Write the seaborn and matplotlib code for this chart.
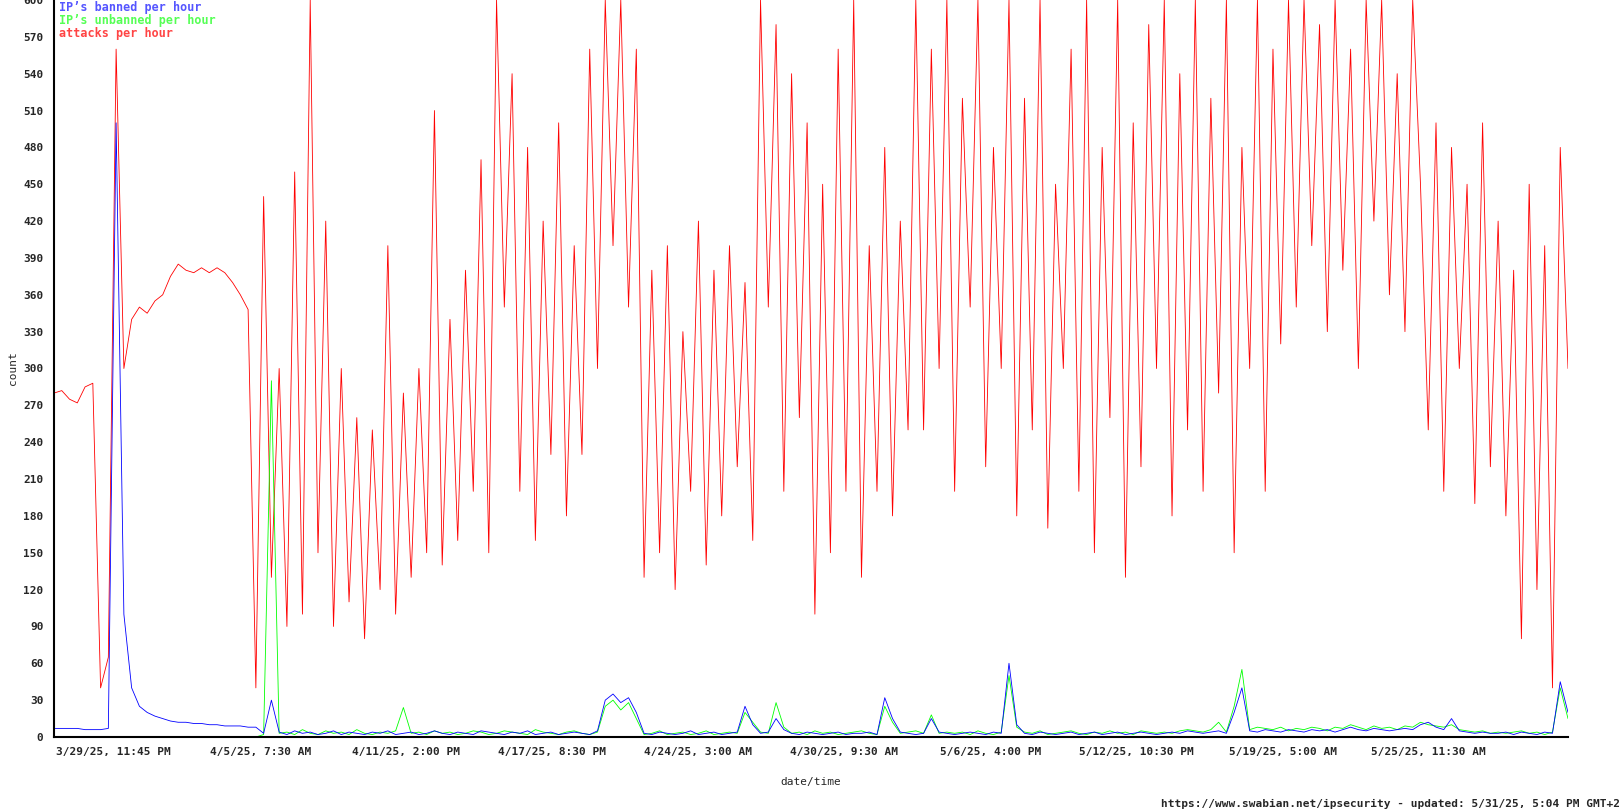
import matplotlib
matplotlib.use("Agg")
import matplotlib.pyplot as plt
import numpy as np
import pandas as pd
import seaborn as sns

START = "2025-03-27 11:00"
STEP = "8h"

attacks = [
    280, 282, 275, 272, 285, 288, 40, 65, 560, 300, 340, 350, 345, 355, 360, 375,
    385, 380, 378, 382, 378, 382, 378, 370, 360, 348,
    40, 440, 130, 300, 90, 460, 100, 600, 150, 420,
    90, 300, 110, 260, 80, 250, 120, 400, 100, 280, 130, 300, 150, 510, 140, 340,
    160, 380, 200, 470, 150,
    600, 350, 540, 200, 480, 160, 420, 230, 500, 180, 400, 230, 560, 300,
    600, 400, 600, 350, 560,
    130, 380, 150, 400, 120, 330, 200, 420, 140, 380, 180, 400, 220, 370, 160,
    600, 350, 580, 200, 540, 260, 500, 100, 450, 150, 560, 200, 600, 130, 400,
    200, 480, 180, 420, 250,
    600, 250, 560, 300, 600, 200, 520, 350, 600, 220, 480, 300, 600, 180, 520, 250,
    600, 170, 450, 300, 560, 200, 600, 150, 480, 260, 600, 130, 500, 220, 580, 300,
    600, 180, 540, 250, 600, 200, 520, 280, 600, 150, 480, 300, 600, 200, 560, 320,
    600, 350, 600, 400, 580, 330, 600, 380, 560, 300, 600, 420, 600, 360, 540, 330,
    600,
    450, 250, 500, 200, 480, 300, 450, 190, 500, 220, 420, 180, 380,
    80, 450, 120, 400, 40, 480, 300,
]

banned = [
    7, 7, 7, 7, 6, 6, 6, 7, 500, 100, 40, 25, 20, 17, 15, 13, 12, 12, 11, 11,
    10, 10, 9, 9, 9, 8, 8,
    3, 30, 4, 2, 5, 3, 4, 2, 3, 5, 2, 4, 3, 2, 4, 3, 5, 2, 3, 4, 2, 3, 5, 3,
    2, 4, 3, 2, 5, 4, 3, 2, 4, 3, 5, 2, 3, 4, 2, 3, 4, 3, 2, 5,
    30, 35, 28, 32, 20,
    3, 2, 4, 3, 2, 3, 5, 2, 3, 4, 2, 3, 4, 25, 10, 3, 4, 15, 6, 3,
    2, 4, 3, 2, 3, 4, 2, 3, 3, 4, 2, 32, 15, 4, 3, 2, 3, 15, 4, 3,
    2, 3, 4, 3, 2, 4, 3, 60, 10, 3, 2, 4, 3, 2, 3, 4, 2, 3, 4, 2,
    3, 4, 2, 3, 4, 3, 2, 3, 4, 3, 5, 4, 3, 4, 5, 3, 20, 40, 5, 4,
    6, 5, 4, 6, 5, 4, 6, 5, 6, 4, 6, 8, 6, 5, 7, 6, 5, 6, 7, 6,
    10, 12, 8, 6, 15, 5, 4, 3, 4, 3, 3, 4, 2, 4, 3, 2, 4, 3, 45, 20,
]

unbanned = [
    0, 0, 0, 0, 0, 0, 0, 0, 0, 0, 0, 0, 0, 0, 0, 0, 0, 0, 0, 0,
    0, 0, 0, 0, 0, 0, 0,
    2, 290, 3, 4, 2, 6, 3, 2, 5, 3, 4, 2, 6, 3, 2, 4, 3, 5, 24, 3, 4, 2, 5, 3,
    4, 2, 3, 5, 4, 2, 3, 5, 4, 3, 2, 6, 4, 3, 2, 4, 5, 3, 2, 4,
    25, 30, 22, 28, 15,
    2, 3, 5, 2, 3, 4, 2, 3, 5, 2, 3, 4, 3, 20, 12, 4, 3, 28, 8, 3,
    4, 2, 5, 3, 4, 2, 3, 4, 5, 3, 2, 25, 12, 3, 4, 5, 3, 18, 3, 4,
    3, 4, 2, 5, 3, 2, 4, 50, 8, 4, 3, 5, 2, 3, 4, 5, 3, 2, 4, 3,
    5, 3, 4, 2, 5, 4, 3, 4, 3, 5, 6, 5, 4, 6, 12, 4, 25, 55, 6, 8,
    7, 6, 8, 5, 7, 6, 8, 7, 5, 8, 7, 10, 8, 6, 9, 7, 8, 6, 9, 8,
    12, 10, 9, 8, 10, 6, 5, 4, 5, 3, 4, 3, 4, 5, 3, 4, 2, 4, 40, 15,
]

tick_times = pd.to_datetime([
    "2025-03-29 23:45", "2025-04-05 07:30", "2025-04-11 14:00", "2025-04-17 20:30",
    "2025-04-24 03:00", "2025-04-30 09:30", "2025-05-06 16:00", "2025-05-12 22:30",
    "2025-05-19 05:00", "2025-05-25 11:30",
])
tick_labels = [
    "3/29/25, 11:45 PM", "4/5/25, 7:30 AM", "4/11/25, 2:00 PM", "4/17/25, 8:30 PM",
    "4/24/25, 3:00 AM", "4/30/25, 9:30 AM", "5/6/25, 4:00 PM", "5/12/25, 10:30 PM",
    "5/19/25, 5:00 AM", "5/25/25, 11:30 AM",
]

sns.set_style("white")
plt.rcParams["font.family"] = ["DejaVu Sans Mono"]
plt.rcParams["font.weight"] = "bold"

fig = plt.figure(figsize=(16.22, 8.11), dpi=100)
ax = fig.add_axes([54 / 1622, 74 / 811, 1514 / 1622, 737 / 811])

def series(vals):
    return pd.Series(vals, index=pd.date_range(START, periods=len(vals), freq=STEP))

for vals, col in [(attacks, "#ff0000"), (unbanned, "#00ff00"), (banned, "#0000ff")]:
    s = series(vals)
    sns.lineplot(x=s.index, y=s.values, ax=ax, color=col, linewidth=0.6)

s_att = series(attacks)
ax.set_xlim(s_att.index[0], s_att.index[-1])
ax.set_ylim(0, 600)
ax.set_yticks(range(0, 601, 30))
ax.set_xticks(tick_times)
ax.set_xticklabels(tick_labels)
ax.tick_params(labelsize=8, length=4, color="black", direction="out")
for sp in ["top", "right"]:
    ax.spines[sp].set_visible(False)
for sp in ["left", "bottom"]:
    ax.spines[sp].set_color("black")
    ax.spines[sp].set_linewidth(1.5)
ax.set_ylabel("count", fontsize=8)
ax.set_xlabel("date/time", fontsize=8, labelpad=14)

ax.text(0.003, 0.998, "IP’s banned per hour", transform=ax.transAxes, color="#5555ff", fontsize=8.5, va="top")
ax.text(0.003, 0.981, "IP’s unbanned per hour", transform=ax.transAxes, color="#55ff55", fontsize=8.5, va="top")
ax.text(0.003, 0.964, "attacks per hour", transform=ax.transAxes, color="#ff4444", fontsize=8.5, va="top")
fig.text(0.999, 0.003, "https://www.swabian.net/ipsecurity - updated: 5/31/25, 5:04 PM GMT+2",
         ha="right", va="bottom", fontsize=8)

fig.savefig("out.png", dpi=100)
